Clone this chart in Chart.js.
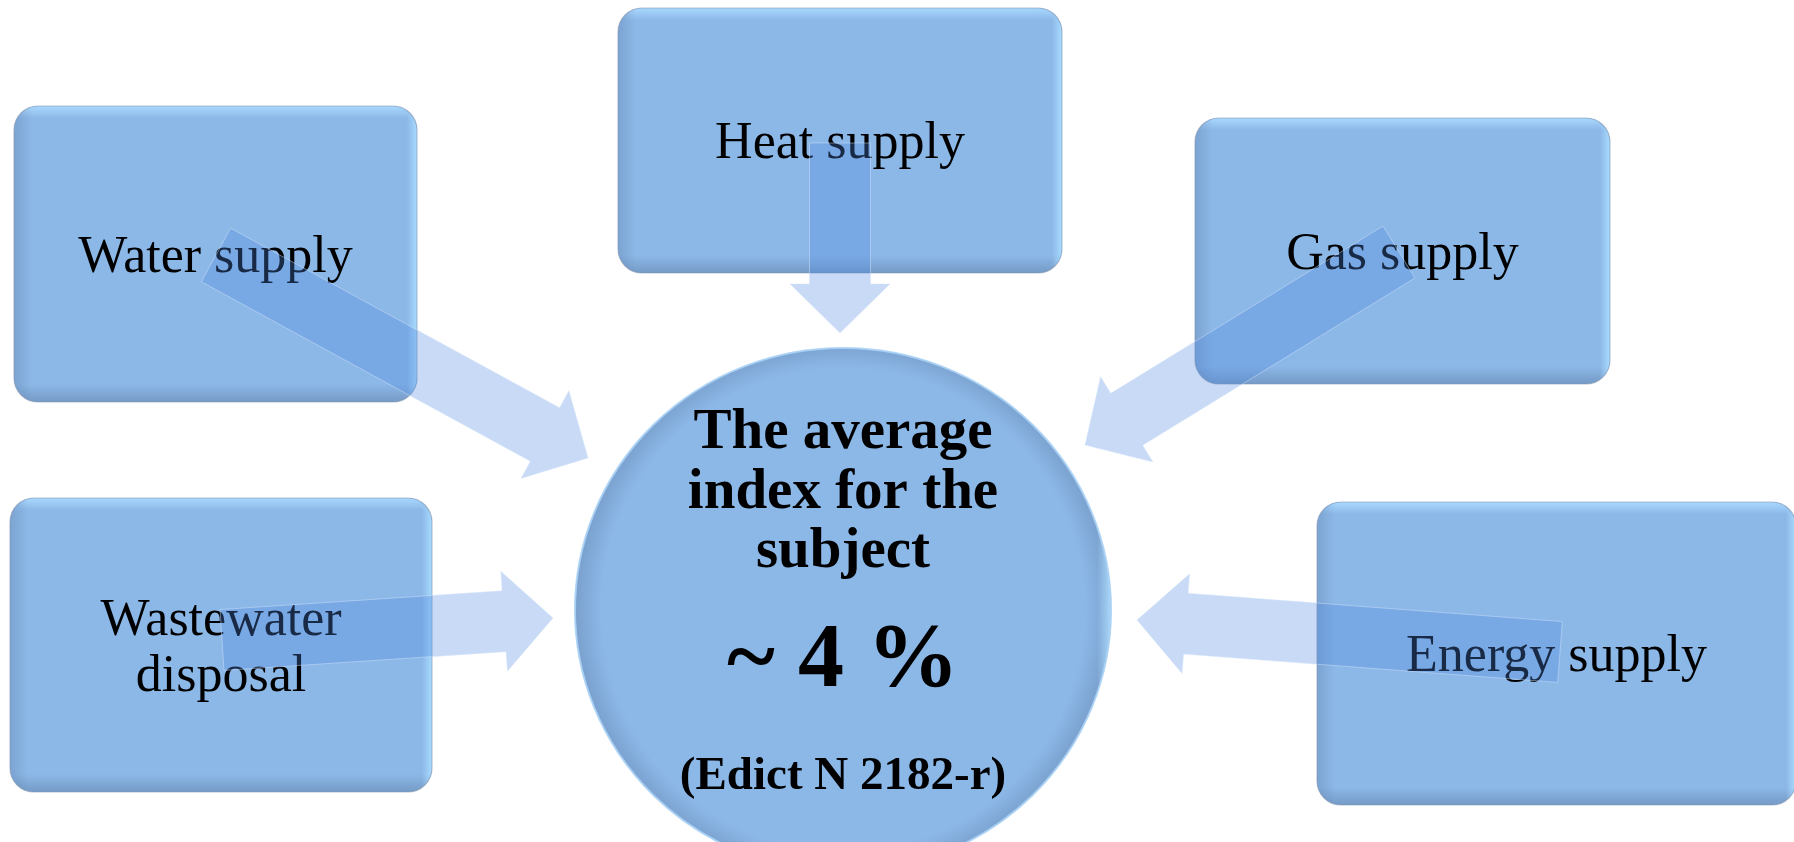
<!DOCTYPE html>
<html lang="en">
<head>
  <meta charset="utf-8" />
  <title>The average index for the subject</title>
  <script src="https://cdn.jsdelivr.net/npm/chart.js@4.4.1/dist/chart.umd.min.js"></script>
  <style>
    html,body{margin:0;padding:0;background:#fff;overflow:hidden;}
    #wrap{position:relative;width:1794px;height:842px;}
  </style>
</head>
<body>
  <div id="wrap"><canvas id="diagram"></canvas></div>

  <script>
    // Diagram values, in page units (x to the right, y downwards).
    const boxLabels = [['Water supply'], ['Heat supply'], ['Gas supply'], ['Wastewater', 'disposal'], ['Energy supply']];
    const boxLeft = [14, 618, 1195, 10, 1317];
    const boxRight = [417, 1062, 1610, 432, 1796];
    const boxTop = [106, 8, 118, 498, 502];
    const boxBottom = [402, 273, 384, 792, 805];

    const arrowTailX = [216, 840, 1399, 222, 1560];
    const arrowTailY = [255, 143, 252, 640, 652];
    const arrowTipX = [588, 840, 1085, 553, 1137];
    const arrowTipY = [458, 333, 445, 618, 620];

    const hubLines = ['The average', 'index for the', 'subject', '~ 4 %', '(Edict N 2182-r)'];
    const hubBaselines = [448, 508, 567, 686, 789];
    const hubX = [575, 1111];   // left / right edge
    const hubY = [348, 872];    // top / bottom edge

    const FILL = '#8cb8e8';
    const ARROW_FILL = 'rgba(79,134,222,0.31)';
    const SERIF = '"Liberation Serif","Times New Roman",serif';
    const hubFonts = ['bold 57px', 'bold 57px', 'bold 57px', 'bold 92px', 'bold 47px'];

    function roundRectPath(ctx, x, y, w, h, r) {
      ctx.beginPath();
      ctx.moveTo(x + r, y);
      ctx.arcTo(x + w, y, x + w, y + h, r);
      ctx.arcTo(x + w, y + h, x, y + h, r);
      ctx.arcTo(x, y + h, x, y, r);
      ctx.arcTo(x, y, x + w, y, r);
      ctx.closePath();
    }

    function band(ctx, x0, y0, x1, y1, c0, c1, rx, ry, rw, rh) {
      const g = ctx.createLinearGradient(x0, y0, x1, y1);
      g.addColorStop(0, c0); g.addColorStop(1, c1);
      ctx.fillStyle = g;
      ctx.fillRect(rx, ry, rw, rh);
    }

    function drawBox(ctx, a, b, lines) {
      const x = a.x, y = a.y, w = b.x - a.x, h = b.y - a.y;
      ctx.save();
      roundRectPath(ctx, x, y, w, h, 24);
      ctx.fillStyle = FILL;
      ctx.fill();
      ctx.clip();
      band(ctx, 0, y, 0, y + 12, 'rgba(170,218,255,0.95)', 'rgba(170,218,255,0)', x, y, w, 12);
      band(ctx, 0, y + h - 18, 0, y + h, 'rgba(95,125,165,0)', 'rgba(95,125,165,0.5)', x, y + h - 18, w, 18);
      band(ctx, x, 0, x + 18, 0, 'rgba(95,125,165,0.35)', 'rgba(95,125,165,0)', x, y, 18, h);
      band(ctx, x + w - 10, 0, x + w, 0, 'rgba(170,220,255,0)', 'rgba(170,222,255,0.95)', x + w - 10, y, 10, h);
      ctx.restore();
      ctx.save();
      roundRectPath(ctx, x, y, w, h, 24);
      ctx.strokeStyle = 'rgba(125,145,175,0.55)';
      ctx.lineWidth = 1.2;
      ctx.stroke();
      ctx.fillStyle = '#000';
      ctx.font = '52px ' + SERIF;
      ctx.textAlign = 'center';
      ctx.textBaseline = 'middle';
      const cx = x + w / 2, cy = y + h / 2 + 4, lh = 56;
      lines.forEach((t, i) => ctx.fillText(t, cx, cy + (i - (lines.length - 1) / 2) * lh));
      ctx.restore();
    }

    function drawHub(ctx, a, b, yScale) {
      const cx = (a.x + b.x) / 2, cy = (a.y + b.y) / 2, rx = (b.x - a.x) / 2, ry = (b.y - a.y) / 2;
      ctx.save();
      ctx.beginPath();
      ctx.ellipse(cx, cy, rx, ry, 0, 0, Math.PI * 2);
      ctx.fillStyle = FILL;
      ctx.fill();
      ctx.clip();
      const g = ctx.createRadialGradient(cx, cy, 0, cx, cy, Math.max(rx, ry));
      g.addColorStop(0, 'rgba(95,125,165,0)');
      g.addColorStop(0.9, 'rgba(95,125,165,0)');
      g.addColorStop(1, 'rgba(95,125,165,0.4)');
      ctx.fillStyle = g;
      ctx.fillRect(cx - rx, cy - ry, rx * 2, ry * 2);
      band(ctx, cx + rx - 14, 0, cx + rx, 0, 'rgba(175,222,255,0)', 'rgba(175,222,255,0.9)', cx, cy - ry, rx, ry * 2);
      ctx.restore();
      ctx.save();
      ctx.beginPath();
      ctx.ellipse(cx, cy, rx, ry, 0, 0, Math.PI * 2);
      ctx.strokeStyle = 'rgba(170,210,245,0.9)';
      ctx.lineWidth = 2;
      ctx.stroke();
      ctx.fillStyle = '#000';
      ctx.textAlign = 'center';
      ctx.textBaseline = 'alphabetic';
      hubLines.forEach((t, i) => {
        ctx.font = hubFonts[i] + ' ' + SERIF;
        ctx.fillText(t, cx, yScale.getPixelForValue(hubBaselines[i]));
      });
      ctx.restore();
    }

    function drawArrow(ctx, t, p) {
      const shaftW = 61, headW = 100, headL = 49;
      const dx = p.x - t.x, dy = p.y - t.y, len = Math.hypot(dx, dy);
      const ux = dx / len, uy = dy / len, nx = -uy, ny = ux;
      const bx = p.x - ux * headL, by = p.y - uy * headL;
      const s = shaftW / 2, hh = headW / 2;
      ctx.save();
      ctx.beginPath();
      ctx.moveTo(t.x + nx * s, t.y + ny * s);
      ctx.lineTo(bx + nx * s, by + ny * s);
      ctx.lineTo(bx + nx * hh, by + ny * hh);
      ctx.lineTo(p.x, p.y);
      ctx.lineTo(bx - nx * hh, by - ny * hh);
      ctx.lineTo(bx - nx * s, by - ny * s);
      ctx.lineTo(t.x - nx * s, t.y - ny * s);
      ctx.closePath();
      ctx.fillStyle = ARROW_FILL;
      ctx.fill();
      ctx.strokeStyle = 'rgba(215,230,250,0.45)';
      ctx.lineWidth = 1;
      ctx.stroke();
      ctx.restore();
    }

    const diagramPlugin = {
      id: 'diagram',
      afterDatasetsDraw(chart) {
        const ctx = chart.ctx;
        const boxes = chart.getDatasetMeta(0).data;
        const hub = chart.getDatasetMeta(1).data;
        const arrows = chart.getDatasetMeta(2).data;
        boxLabels.forEach((lines, i) => drawBox(ctx, boxes[i * 2], boxes[i * 2 + 1], lines));
        drawHub(ctx, hub[0], hub[1], chart.scales.y);
        for (let i = 0; i < arrowTipX.length; i++) drawArrow(ctx, arrows[i * 2], arrows[i * 2 + 1]);
      }
    };

    const boxPoints = boxLeft.flatMap((l, i) => [{ x: l, y: boxTop[i] }, { x: boxRight[i], y: boxBottom[i] }]);
    const hubPoints = [{ x: hubX[0], y: hubY[0] }, { x: hubX[1], y: hubY[1] }];
    const arrowPoints = arrowTailX.flatMap((tx, i) => [{ x: tx, y: arrowTailY[i] }, { x: arrowTipX[i], y: arrowTipY[i] }]);

    new Chart(document.getElementById('diagram'), {
      type: 'scatter',
      data: {
        datasets: [
          { label: 'Utilities', data: boxPoints, pointRadius: 0 },
          { label: 'Subject index', data: hubPoints, pointRadius: 0 },
          { label: 'Contribution', data: arrowPoints, pointRadius: 0 }
        ]
      },
      options: {
        responsive: true,
        maintainAspectRatio: false,
        animation: false,
        layout: { padding: 0 },
        plugins: { legend: { display: false }, tooltip: { enabled: false } },
        events: [],
        scales: {
          x: { type: 'linear', min: 0, max: 1794, display: false },
          y: { type: 'linear', min: 0, max: 842, reverse: true, display: false }
        }
      },
      plugins: [diagramPlugin]
    });
  </script>
</body>
</html>
